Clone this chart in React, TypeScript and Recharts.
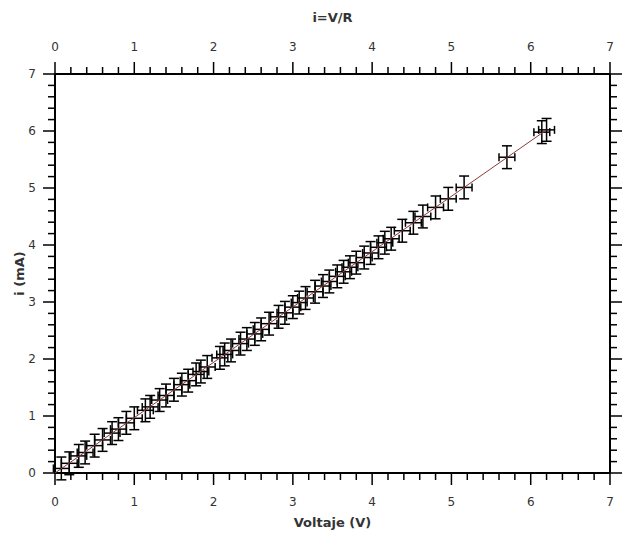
import React from 'react';
import { ComposedChart, Scatter, XAxis, YAxis, ErrorBar, Label } from 'recharts';

// Measured voltage (V)
const voltage = [
  0.08, 0.18, 0.3, 0.38, 0.5, 0.6, 0.72, 0.8, 0.9, 1.0,
  1.14, 1.2, 1.32, 1.4, 1.5, 1.6, 1.68, 1.78, 1.84, 1.92,
  2.08, 2.14, 2.22, 2.34, 2.42, 2.52, 2.6, 2.7, 2.82, 2.9,
  3.0, 3.08, 3.16, 3.28, 3.38, 3.46, 3.56, 3.64, 3.72, 3.8,
  3.9, 3.98, 4.08, 4.16, 4.24, 4.38, 4.52, 4.64, 4.8, 4.96,
  5.16, 5.7, 6.14, 6.2,
];
// Measured current (mA)
const current = [
  0.08, 0.17, 0.3, 0.36, 0.48, 0.58, 0.7, 0.77, 0.88, 0.96,
  1.1, 1.16, 1.28, 1.36, 1.46, 1.55, 1.62, 1.73, 1.78, 1.86,
  2.02, 2.08, 2.15, 2.27, 2.35, 2.44, 2.52, 2.62, 2.74, 2.81,
  2.91, 2.99, 3.07, 3.18, 3.28, 3.36, 3.45, 3.53, 3.61, 3.69,
  3.78, 3.86, 3.96, 4.04, 4.11, 4.25, 4.39, 4.5, 4.66, 4.81,
  5.01, 5.54, 5.98, 6.02,
];
const voltageError = 0.1;
const currentError = 0.2;

// Fit line endpoints
const fitVoltage = [0, 6.2];
const fitCurrent = [0, 6.02];

// Axis ticks (major = integers, minor every 0.2)
const axisTicks = [
  0, 0.2, 0.4, 0.6, 0.8, 1, 1.2, 1.4, 1.6, 1.8, 2, 2.2, 2.4, 2.6, 2.8, 3,
  3.2, 3.4, 3.6, 3.8, 4, 4.2, 4.4, 4.6, 4.8, 5, 5.2, 5.4, 5.6, 5.8, 6,
  6.2, 6.4, 6.6, 6.8, 7,
];

const points = voltage.map((v, k) => ({ v, i: current[k], ex: voltageError, ey: currentError }));
const fitPoints = fitVoltage.map((v, k) => ({ v, i: fitCurrent[k] }));

const MAJOR = 12;
const MINOR = 7;
const FONT = 'DejaVu Sans, Verdana, sans-serif';
const tickText = { fontFamily: FONT, fontSize: 12, fill: '#333' } as const;
const isMajor = (v: number) => Math.abs(v - Math.round(v)) < 1e-6;

function BottomTick(props: any) {
  const { x, y, payload } = props;
  const major = isMajor(payload.value);
  return (
    <g>
      <line x1={x} y1={y} x2={x} y2={y + (major ? MAJOR : MINOR)} stroke="#000" strokeWidth={1.5} />
      {major && (
        <text x={x} y={y + 29} textAnchor="middle" dominantBaseline="central" {...tickText}>
          {Math.round(payload.value)}
        </text>
      )}
    </g>
  );
}
function TopTick(props: any) {
  const { x, y, payload } = props;
  const major = isMajor(payload.value);
  return (
    <g>
      <line x1={x} y1={y} x2={x} y2={y - (major ? MAJOR : MINOR)} stroke="#000" strokeWidth={1.5} />
      {major && (
        <text x={x} y={y - 27} textAnchor="middle" dominantBaseline="central" {...tickText}>
          {Math.round(payload.value)}
        </text>
      )}
    </g>
  );
}
function LeftTick(props: any) {
  const { x, y, payload } = props;
  const major = isMajor(payload.value);
  return (
    <g>
      <line x1={x} y1={y} x2={x - (major ? MAJOR : MINOR)} y2={y} stroke="#000" strokeWidth={1.5} />
      {major && (
        <text x={x - 19} y={y} textAnchor="end" dominantBaseline="central" {...tickText}>
          {Math.round(payload.value)}
        </text>
      )}
    </g>
  );
}
function RightTick(props: any) {
  const { x, y, payload } = props;
  const major = isMajor(payload.value);
  return (
    <g>
      <line x1={x} y1={y} x2={x + (major ? MAJOR : MINOR)} y2={y} stroke="#000" strokeWidth={1.5} />
      {major && (
        <text x={x + 18} y={y} textAnchor="start" dominantBaseline="central" {...tickText}>
          {Math.round(payload.value)}
        </text>
      )}
    </g>
  );
}

const noShape = () => <g />;
const axisLine = { stroke: '#000', strokeWidth: 2 };
const labelStyle = { fontFamily: FONT, fontSize: 13, fontWeight: 700, fill: '#333' };

export default function App() {
  return (
    <div style={{ width: 624, height: 526, overflow: 'hidden' }}>
      <ComposedChart width={624} height={526} margin={{ top: 0, right: 0, bottom: 0, left: 0 }}>
        <XAxis
          xAxisId="b"
          orientation="bottom"
          type="number"
          dataKey="v"
          domain={[0, 7]}
          allowDataOverflow
          ticks={axisTicks}
          interval={0}
          height={61}
          tickSize={0}
          tickMargin={0}
          axisLine={axisLine}
          tickLine={false}
          tick={<BottomTick />}
        >
          <Label value="Voltaje (V)" position="insideBottom" offset={7} style={labelStyle} />
        </XAxis>
        <XAxis
          xAxisId="t"
          orientation="top"
          type="number"
          dataKey="v"
          domain={[0, 7]}
          allowDataOverflow
          ticks={axisTicks}
          interval={0}
          height={66}
          tickSize={0}
          tickMargin={0}
          axisLine={axisLine}
          tickLine={false}
          tick={<TopTick />}
        >
          <Label value="i=V/R" position="insideTop" offset={5} style={labelStyle} />
        </XAxis>
        <YAxis
          yAxisId="l"
          orientation="left"
          type="number"
          dataKey="i"
          domain={[0, 7]}
          allowDataOverflow
          ticks={axisTicks}
          interval={0}
          width={47}
          tickSize={0}
          tickMargin={0}
          axisLine={axisLine}
          tickLine={false}
          tick={<LeftTick />}
        >
          <Label
            value="i (mA)"
            angle={-90}
            position="insideLeft"
            offset={11}
            style={{ ...labelStyle, textAnchor: 'middle' }}
          />
        </YAxis>
        <YAxis
          yAxisId="r"
          orientation="right"
          type="number"
          dataKey="i"
          domain={[0, 7]}
          allowDataOverflow
          ticks={axisTicks}
          interval={0}
          width={22}
          tickSize={0}
          tickMargin={0}
          axisLine={axisLine}
          tickLine={false}
          tick={<RightTick />}
        />
        <Scatter xAxisId="b" yAxisId="l" data={points} shape={noShape} isAnimationActive={false}>
          <ErrorBar dataKey="ex" direction="x" width={4} stroke="#000" strokeWidth={1.5} isAnimationActive={false} />
          <ErrorBar dataKey="ey" direction="y" width={5} stroke="#000" strokeWidth={1.5} isAnimationActive={false} />
        </Scatter>
        <Scatter
          xAxisId="b"
          yAxisId="l"
          data={fitPoints}
          shape={noShape}
          line={{ stroke: '#8a3b3b', strokeWidth: 1 }}
          isAnimationActive={false}
        />
      </ComposedChart>
    </div>
  );
}
